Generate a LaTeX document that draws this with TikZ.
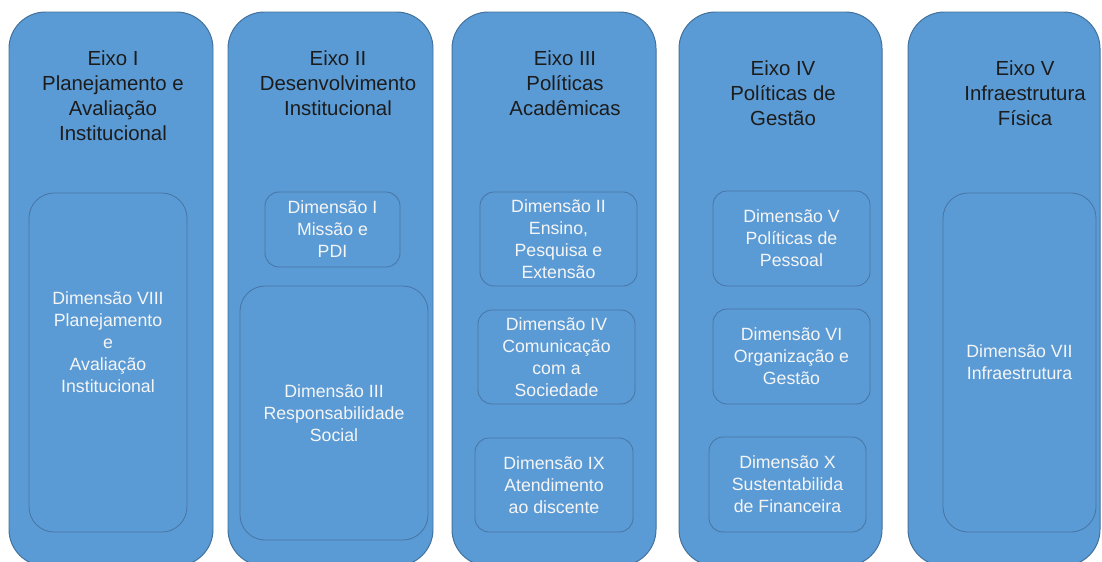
\documentclass[tikz,border=0pt]{standalone}
\usepackage{fontspec}
\setmainfont{Liberation Sans}
\definecolor{axFill}{HTML}{5B9BD5}
\definecolor{axLine}{HTML}{41719C}
\definecolor{dimLine}{HTML}{4776A6}
\definecolor{axText}{HTML}{1C1C1C}
\definecolor{dimText}{HTML}{F5F5F5}
\usetikzlibrary{positioning}

\tikzset{
  eixobox/.style={draw=axLine, fill=axFill, line width=0.7pt, rounded corners=26pt},
  eixotitle/.style={align=center, text=axText, font=\fontsize{14.5}{17.8}\selectfont},
  dimbox/.style={draw=dimLine, line width=0.6pt, rounded corners=10pt, inner sep=0pt,
    align=center, text=dimText, font=\fontsize{12.6}{15.65}\selectfont},
  dimtext/.style={align=center, text=dimText, font=\fontsize{12.6}{15.65}\selectfont}
}

\begin{document}
\begin{tikzpicture}[x=0.025cm, y=-0.025cm]
  \useasboundingbox (0,0) rectangle (1102,561);
  \clip (0,0) rectangle (1102,561);
  % columns
  \draw[eixobox] (9,12) rectangle (213,566);
  \draw[eixobox] (228,12) rectangle (433,566);
  \draw[eixobox] (452,12) rectangle (656,566);
  \draw[eixobox] (679,12) rectangle (882,566);
  \draw[eixobox] (908,12) rectangle (1100,566);
  % titles
  \node[eixotitle] (eixoI) at (113,95.5) {Eixo I\\Planejamento e\\Avaliação\\Institucional};
  \node[eixotitle] (eixoII) at (338,83) {Eixo II\\Desenvolvimento\\Institucional};
  \node[eixotitle] (eixoIII) at (565,83) {Eixo III\\Políticas\\Acadêmicas};
  \node[eixotitle] (eixoIV) at (783,93) {Eixo IV\\Políticas de\\Gestão};
  \node[eixotitle] (eixoV) at (1025,93) {Eixo V\\Infraestrutura\\Física};
  % dimensions
  \node[dimbox, rounded corners=18pt, minimum width=3.95cm, minimum height=8.475cm] (dimVIII) at (108,362.5) {};
  \node[dimtext] (dimVIIItext) at (108,342) {Dimensão VIII\\Planejamento\\e\\Avaliação\\Institucional};
  \node[dimbox, minimum width=3.375cm, minimum height=1.875cm] (dimI) at (332.5,229.5) {Dimensão I\\Missão e\\PDI};
  \node[dimbox, rounded corners=18pt, minimum width=4.7cm, minimum height=6.35cm] (dimIII) at (334,413) {Dimensão III\\Responsabilidade\\Social};
  \node[dimbox, minimum width=3.925cm, minimum height=2.35cm] (dimII) at (558.5,239) {Dimensão II\\Ensino,\\Pesquisa e\\Extensão};
  \node[dimbox, minimum width=3.925cm, minimum height=2.35cm] (dimIV) at (556.5,357) {Dimensão IV\\Comunicação\\com a\\Sociedade};
  \node[dimbox, minimum width=3.95cm, minimum height=2.35cm] (dimIX) at (554,485) {Dimensão IX\\Atendimento\\ao discente};
  \node[dimbox, minimum width=3.925cm, minimum height=2.375cm] (dimV) at (791.5,238.5) {Dimensão V\\Políticas de\\Pessoal};
  \node[dimbox, minimum width=3.925cm, minimum height=2.375cm] (dimVI) at (791.5,356.5) {Dimensão VI\\Organização e\\Gestão};
  \node[dimbox, minimum width=3.925cm, minimum height=2.375cm] (dimX) at (787.5,484.5) {Dimensão X\\Sustentabilida\\de Financeira};
  \node[dimbox, rounded corners=18pt, minimum width=3.825cm, minimum height=8.475cm] (dimVII) at (1019.5,362.5) {Dimensão VII\\Infraestrutura};
\end{tikzpicture}
\end{document}
